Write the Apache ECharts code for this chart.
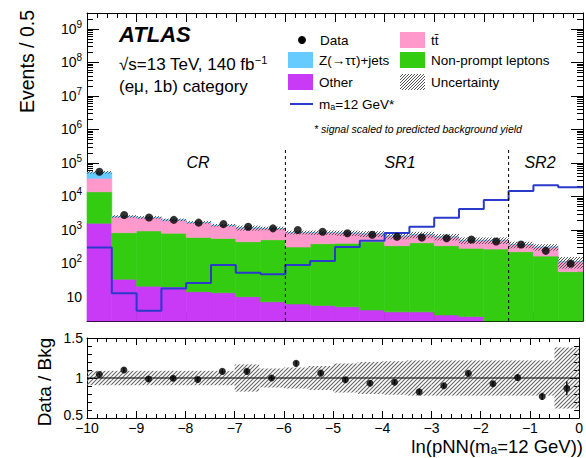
<!DOCTYPE html>
<html><head><meta charset="utf-8">
<script src="https://cdn.jsdelivr.net/npm/echarts@6/dist/echarts.min.js"></script>
<style>html,body{margin:0;padding:0;background:#fff}#c{width:586px;height:458px}</style>
</head><body><div id="c"></div>
<script>
// ---- data ----
const xEdges = [-10,-9.5,-9,-8.5,-8,-7.5,-7,-6.5,-6,-5.5,-5,-4.5,-4,-3.5,-3,-2.5,-2,-1.5,-1,-0.5,0];
const dataCounts = [55000,2800,2350,2000,1660,1500,1250,1120,1000,890,795,720,630,600,565,520,455,370,238,99];
const zttYield = [17700,60,50,40,30,20,15,10,8,6,5,4,3,3,2,2,1,1,1,0.5];
const ttbarYield = [21200,1655,1390,1168,1060,805,694,600,527,443,408,321,322,308,283,206,220,142,142,56];
const nonPromptYield = [12200,796,919,780,586,547,435,503,304,384,395,441,336,411,337,281,268,223,165,56];
const otherYield = [1590,34,21,20,14.4,13.4,10.2,7.2,6.2,5.6,5.1,4.1,3.6,3.6,2.9,2.6,1.5,1.4,1.2,1.0];
const signalYield = [300,13,3.9,18,26,90,53,48,90,118,310,480,810,1260,2300,4200,7900,14600,21800,19000];
const relUnc = [0.09,0.09,0.09,0.09,0.09,0.09,0.17,0.12,0.13,0.15,0.18,0.2,0.21,0.22,0.22,0.22,0.22,0.22,0.22,0.38];
const ratioErr = [0.01,0.03,0.03,0.03,0.03,0.03,0.03,0.03,0.03,0.03,0.03,0.03,0.03,0.03,0.03,0.03,0.035,0.04,0.045,0.087];
const regionEdges = [-6,-1.5];
const regionLineTop = 2.5e5;
const regionNames = ['CR','SR1','SR2'];

// ---- styling ----
const FONT = '"Liberation Sans", Arial, Helvetica, sans-serif';
const C_Z = '#66ccff', C_TT = '#ff99cc', C_NP = '#33cc11', C_OTHER = '#c83af5', C_SIG = '#2a3acb';
const yMin = 1.92, yMax = 3e9;

function hatch(color, step, lw) {
  const c = document.createElement('canvas'); c.width = step; c.height = step;
  const g = c.getContext('2d'); g.strokeStyle = color; g.lineWidth = lw;
  g.beginPath();
  g.moveTo(0, step); g.lineTo(step, 0);
  g.moveTo(-1, 1); g.lineTo(1, -1);
  g.moveTo(step - 1, step + 1); g.lineTo(step + 1, step - 1);
  g.stroke();
  return {image: c.toDataURL(), repeat: 'repeat', imageWidth: step, imageHeight: step};
}
const hatchUpper = hatch('#555', 3, 1);
const hatchRatio = hatch('#666', 4, 1.1);

const nb = dataCounts.length;
const centers = [], c1 = [], c2 = [], c3 = [], c4 = [];
for (let i = 0; i < nb; i++) {
  centers.push((xEdges[i] + xEdges[i + 1]) / 2);
  c1.push(otherYield[i]);
  c2.push(c1[i] + nonPromptYield[i]);
  c3.push(c2[i] + ttbarYield[i]);
  c4.push(c3[i] + zttYield[i]);
}
function items(lo, hi) {
  const out = [];
  for (let i = 0; i < nb; i++) out.push([xEdges[i], xEdges[i + 1], lo[i], hi[i]]);
  return out;
}
function stackSeries(name, fill, lo, hi, z, stroke) {
  return {
    type: 'custom', name, xAxisIndex: 0, yAxisIndex: 0, z, silent: true,
    encode: {x: [0, 1], y: [2, 3]}, data: items(lo, hi),
    renderItem: (params, api) => {
      const x0 = api.value(0), x1 = api.value(1);
      const y0 = Math.max(api.value(2), yMin), y1 = Math.min(Math.max(api.value(3), yMin), yMax);
      if (y1 <= y0) return null;
      const p0 = api.coord([x0, y1]), p1 = api.coord([x1, y0]);
      return {type: 'rect', shape: {x: p0[0], y: p0[1], width: p1[0] - p0[0], height: p1[1] - p0[1]},
        style: {fill, stroke: stroke || null, lineWidth: stroke ? 0.6 : 0}};
    }
  };
}
const lowest = c1.map(() => yMin);
const uncLo = c4.map((t, i) => t * (1 - relUnc[i]));
const uncHi = c4.map((t, i) => t * (1 + relUnc[i]));
const ratio = dataCounts.map((d, i) => d / c4[i]);

const sigLine = signalYield.map((v, i) => [xEdges[i], v]);
sigLine.push([xEdges[nb], signalYield[nb - 1]]);

const axisCommonX = (grid, pos, labels) => ({
  gridIndex: grid, type: 'value', position: pos, min: -10, max: 0, interval: 1,
  axisLine: {show: true, onZero: false, lineStyle: {color: '#000', width: 1}},
  axisTick: {show: true, inside: true, length: grid === 0 ? 9 : 7, lineStyle: {color: '#000', width: 1}},
  minorTick: {show: true, splitNumber: 5, length: grid === 0 ? 5 : 4, lineStyle: {color: '#000', width: 1}},
  splitLine: {show: false},
  axisLabel: labels ? {show: true, color: '#000', fontFamily: FONT, fontSize: 14, margin: 3, lineHeight: 14,
    formatter: v => (v < 0 ? '\u2212' + Math.abs(v) : String(v))} : {show: false}
});
const supFmt = v => {
  const n = Math.round(Math.log10(v));
  if (Math.abs(Math.log10(v) - n) > 1e-6) return '';
  if (n === 1) return '{b|10}';
  return '{b|10}{s|' + n + '}';
};
const axisLogY = (pos, labels) => ({
  gridIndex: 0, type: 'log', logBase: 10, position: pos, min: yMin, max: yMax,
  axisLine: {show: true, onZero: false, lineStyle: {color: '#000', width: 1}},
  axisTick: {show: true, inside: true, length: 12, lineStyle: {color: '#000', width: 1}},
  minorTick: {show: true, splitNumber: 9, length: 6, lineStyle: {color: '#000', width: 1}},
  splitLine: {show: false}, minorSplitLine: {show: false},
  axisLabel: labels ? {show: true, margin: 5, formatter: supFmt, color: '#000',
    rich: {b: {fontFamily: FONT, fontSize: 14, color: '#000'},
           s: {fontFamily: FONT, fontSize: 10, color: '#000', padding: [0, 0, 9, 0]}}} : {show: false}
});
const axisRatioY = (pos, labels) => ({
  gridIndex: 1, type: 'value', position: pos, min: 0.5, max: 1.5, interval: 0.5,
  axisLine: {show: true, onZero: false, lineStyle: {color: '#000', width: 1}},
  axisTick: {show: true, inside: true, length: 10, lineStyle: {color: '#000', width: 1}},
  minorTick: {show: true, splitNumber: 5, length: 5, lineStyle: {color: '#000', width: 1}},
  splitLine: {show: false},
  axisLabel: labels ? {show: true, margin: 4, color: '#000', fontFamily: FONT, fontSize: 14,
    formatter: v => (v === 0.5 ? '{lo|0.5}' : String(v)),
    rich: {lo: {fontFamily: FONT, fontSize: 14, color: '#000', padding: [0, 0, 7, 0]}}} : {show: false}
});

const series = [
  stackSeries('Other', C_OTHER, lowest, c1, 1, C_OTHER),
  stackSeries('Non-prompt leptons', C_NP, c1, c2, 1, C_NP),
  stackSeries('ttbar', C_TT, c2, c3, 1, C_TT),
  stackSeries('Z', C_Z, c3, c4, 1, C_Z),
  stackSeries('Uncertainty', hatchUpper, uncLo, uncHi, 2, null),
  {type: 'line', name: 'signal', xAxisIndex: 0, yAxisIndex: 0, z: 4, step: 'end', data: sigLine,
   symbol: 'none', lineStyle: {color: C_SIG, width: 2}, silent: true},
  {type: 'scatter', name: 'Data', xAxisIndex: 0, yAxisIndex: 0, z: 6, symbol: 'circle', symbolSize: 8,
   itemStyle: {color: '#000'}, data: centers.map((x, i) => [x, dataCounts[i]]), silent: true},
  // ratio panel
  {type: 'custom', name: 'ratioUnc', xAxisIndex: 2, yAxisIndex: 2, z: 2, silent: true,
   encode: {x: [0, 1], y: [2, 3]},
   data: centers.map((x, i) => [xEdges[i], xEdges[i + 1], 1 - relUnc[i], 1 + relUnc[i]]),
   renderItem: (params, api) => {
     const p0 = api.coord([api.value(0), api.value(3)]), p1 = api.coord([api.value(1), api.value(2)]);
     return {type: 'rect', shape: {x: p0[0], y: p0[1], width: p1[0] - p0[0], height: p1[1] - p0[1]},
       style: {fill: hatchRatio}};
   }},
  {type: 'line', name: 'unity', xAxisIndex: 2, yAxisIndex: 2, z: 3, data: [[-10, 1], [0, 1]],
   symbol: 'none', lineStyle: {color: '#000', width: 1.2}, silent: true},
  {type: 'custom', name: 'ratioErr', xAxisIndex: 2, yAxisIndex: 2, z: 5, silent: true,
   encode: {x: 0, y: [1, 2]},
   data: centers.map((x, i) => [x, ratio[i] - ratioErr[i], ratio[i] + ratioErr[i]]),
   renderItem: (params, api) => {
     const a = api.coord([api.value(0), api.value(1)]), b = api.coord([api.value(0), api.value(2)]);
     return {type: 'line', shape: {x1: a[0], y1: a[1], x2: b[0], y2: b[1]}, style: {stroke: '#000', lineWidth: 1.3}};
   }},
  {type: 'scatter', name: 'ratio', xAxisIndex: 2, yAxisIndex: 2, z: 6, symbol: 'circle', symbolSize: 7,
   itemStyle: {color: '#000'}, data: centers.map((x, i) => [x, ratio[i]]), silent: true}
];
regionEdges.forEach(e => series.push({type: 'line', xAxisIndex: 0, yAxisIndex: 0, z: 5, silent: true,
  data: [[e, yMin], [e, regionLineTop]], symbol: 'none', lineStyle: {color: '#000', width: 1, type: [3, 3]}}));

const txt = (x, y, text, size, extra) => Object.assign({type: 'text', x, y, silent: true,
  style: Object.assign({text, fontFamily: FONT, fontSize: size, fill: '#000', verticalAlign: 'middle'}, extra || {})});
const box = (x, y, fill, stroke) => ({type: 'rect', silent: true, shape: {x, y, width: 25, height: 16},
  style: {fill, stroke: stroke || null, lineWidth: stroke ? 0.8 : 0}});

const graphic = [
  txt(119, 34, 'ATLAS', 22, {fontStyle: 'italic', fontWeight: 'bold'}),
  txt(119, 64, '\u221As=13 TeV, 140 fb{sup|\u22121}', 17, {rich: {sup: {fontFamily: FONT, fontSize: 11, fill: '#000', padding: [0, 0, 9, 0]}}}),
  txt(119, 86, '(e\u03bc, 1b) category', 17),
  // legend column 1
  {type: 'circle', silent: true, shape: {cx: 302, cy: 40, r: 4}, style: {fill: '#000'}},
  txt(320, 40, 'Data', 13.5),
  box(288, 52, C_Z), txt(319, 60, 'Z(\u2192\u03c4\u03c4)+jets', 13.5),
  box(288, 74, C_OTHER), txt(319, 82, 'Other', 13.5),
  {type: 'line', silent: true, shape: {x1: 290, y1: 104, x2: 313, y2: 104}, style: {stroke: C_SIG, lineWidth: 2}},
  txt(319, 104, 'm{sub|a}=12 GeV*', 13.5, {rich: {sub: {fontFamily: FONT, fontSize: 9, fill: '#000', padding: [6, 0, 0, 0]}}}),
  // legend column 2
  box(400, 32, C_TT), txt(431, 40, 'tt\u0304', 13.5),
  box(400, 52, C_NP), txt(431, 60, 'Non-prompt leptons', 13.5),
  box(400, 74, hatchUpper), txt(431, 82, 'Uncertainty', 13.5),
  txt(418, 129, '* signal scaled to predicted background yield', 10.5, {fontStyle: 'italic', align: 'center'}),
  // regions
  txt(198, 162, regionNames[0], 16, {fontStyle: 'italic', align: 'center'}),
  txt(400, 162, regionNames[1], 16, {fontStyle: 'italic', align: 'center'}),
  txt(540, 162, regionNames[2], 16, {fontStyle: 'italic', align: 'center'}),
  // axis titles
  Object.assign(txt(27, 10, 'Events / 0.5', 19.5, {align: 'right'}), {rotation: Math.PI / 2}),
  Object.assign(txt(44, 382, 'Data / Bkg', 19, {align: 'center'}), {rotation: Math.PI / 2}),
  txt(583, 446, 'ln(pNN(m{sub|a}=12 GeV))', 18.5, {align: 'right', rich: {sub: {fontFamily: FONT, fontSize: 12, fill: '#000', padding: [8, 0, 0, 0]}}})
];

const chart = echarts.init(document.getElementById('c'), null, {renderer: 'svg', width: 586, height: 458});
chart.setOption({
  animation: false,
  backgroundColor: '#fff',
  grid: [
    {left: 87, top: 13, width: 496, height: 308},
    {left: 87, top: 338, width: 496, height: 80}
  ],
  xAxis: [axisCommonX(0, 'bottom', false), axisCommonX(0, 'top', false), axisCommonX(1, 'bottom', true), axisCommonX(1, 'top', false)],
  yAxis: [axisLogY('left', true), axisLogY('right', false), axisRatioY('left', true), axisRatioY('right', false)],
  series,
  graphic
});
</script></body></html>
